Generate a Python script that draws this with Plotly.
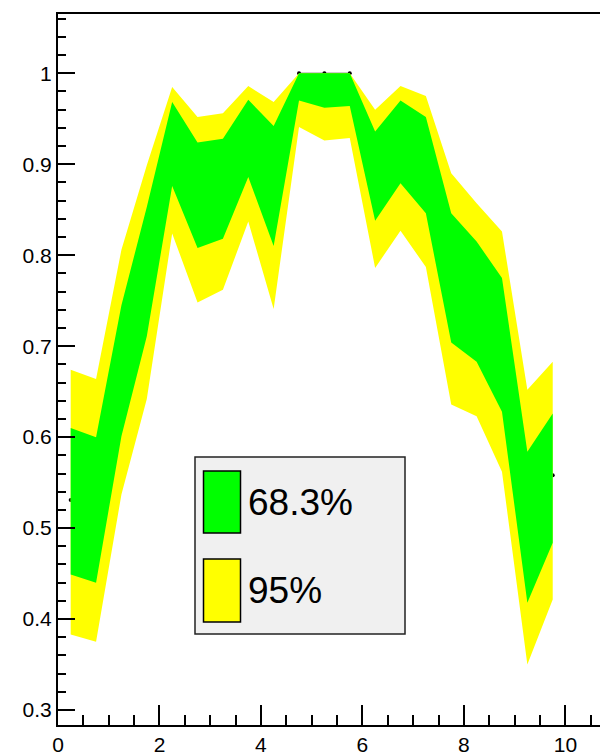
import plotly.graph_objects as go

# ---------------- data ----------------
x_centers = [0.25, 0.75, 1.25, 1.75, 2.25, 2.75, 3.25, 3.75, 4.25, 4.75,
             5.25, 5.75, 6.25, 6.75, 7.25, 7.75, 8.25, 8.75, 9.25, 9.75]
efficiency = [0.531, 0.520, 0.673, 0.782, 0.922, 0.866, 0.873, 0.928, 0.876, 1.000,
              1.000, 1.000, 0.887, 0.924, 0.899, 0.775, 0.749, 0.701, 0.501, 0.558]
band68_hi = [0.610, 0.600, 0.745, 0.853, 0.9685, 0.924, 0.928, 0.971, 0.942, 1.000,
             1.000, 1.000, 0.936, 0.970, 0.952, 0.846, 0.815, 0.775, 0.584, 0.626]
band68_lo = [0.449, 0.440, 0.601, 0.711, 0.876, 0.808, 0.818, 0.886, 0.810, 0.970,
             0.962, 0.964, 0.838, 0.879, 0.846, 0.704, 0.683, 0.628, 0.418, 0.484]
band95_hi = [0.674, 0.664, 0.806, 0.899, 0.985, 0.952, 0.956, 0.986, 0.9685, 1.000,
             1.000, 1.000, 0.960, 0.986, 0.975, 0.890, 0.857, 0.826, 0.652, 0.683]
band95_lo = [0.383, 0.375, 0.537, 0.642, 0.824, 0.748, 0.762, 0.837, 0.741, 0.941,
             0.926, 0.929, 0.786, 0.827, 0.787, 0.636, 0.623, 0.562, 0.350, 0.4215]

legend_labels = ["68.3%", "95%"]
band_colors = ["#00ff00", "#ffff00"]

x_tickvals = [0, 2, 4, 6, 8, 10]
x_ticktext = ["0", "2", "4", "6", "8", "10"]
y_tickvals = [0.3, 0.4, 0.5, 0.6, 0.7, 0.8, 0.9, 1.0]
y_ticktext = ["0.3", "0.4", "0.5", "0.6", "0.7", "0.8", "0.9", "1"]

# ---------------- layout geometry (pixels) ----------------
W, H = 600, 752
ML, MT, MB, MR = 58, 14, 27, 0
PW, PH = W - ML - MR, H - MT - MB
FONT = "Liberation Sans, Arial, Helvetica, sans-serif"


def px(xp):
    return (xp - ML) / PW


def py(yp):
    return (H - MB - yp) / PH


fig = go.Figure()

# central graph (mostly hidden behind the bands)
fig.add_trace(go.Scatter(x=x_centers, y=efficiency, mode="markers+lines",
                         line=dict(color="black", width=1),
                         marker=dict(color="black", size=4),
                         showlegend=False, hoverinfo="skip"))

# 95% band
fig.add_trace(go.Scatter(x=x_centers + x_centers[::-1],
                         y=band95_hi + band95_lo[::-1],
                         fill="toself", fillcolor=band_colors[1],
                         line=dict(width=0), mode="lines",
                         name=legend_labels[1], showlegend=False, hoverinfo="skip"))
# 68.3% band
fig.add_trace(go.Scatter(x=x_centers + x_centers[::-1],
                         y=band68_hi + band68_lo[::-1],
                         fill="toself", fillcolor=band_colors[0],
                         line=dict(width=0), mode="lines",
                         name=legend_labels[0], showlegend=False, hoverinfo="skip"))

# legend drawn as a ROOT-style box
shapes = [dict(type="rect", xref="paper", yref="paper",
               x0=px(195), x1=px(405), y0=py(634), y1=py(457),
               fillcolor="#f0f0f0", line=dict(color="#222222", width=1.5), layer="above")]
sw_rows = [(471, 533), (559, 622)]
annotations = []
for (top, bot), col, lab in zip(sw_rows, band_colors, legend_labels):
    shapes.append(dict(type="rect", xref="paper", yref="paper",
                       x0=px(203.5), x1=px(240.5), y0=py(bot), y1=py(top),
                       fillcolor=col, line=dict(color="black", width=1.5), layer="above"))
    annotations.append(dict(xref="paper", yref="paper", x=px(246), y=py((top + bot) / 2),
                            xanchor="left", yanchor="middle", text=lab, showarrow=False,
                            font=dict(family=FONT, size=37, color="black")))

y0v, y1v = 0.2835, 1.0652
fig.update_layout(
    width=W, height=H,
    margin=dict(l=ML, r=MR, t=MT, b=MB, pad=0, autoexpand=False),
    paper_bgcolor="white", plot_bgcolor="white",
    shapes=shapes, annotations=annotations,
    showlegend=False,
    xaxis=dict(range=[0, PW / 50.74], showgrid=False, zeroline=False, automargin=False,
               showline=True, linecolor="black", linewidth=2, mirror=True,
               ticks="inside", ticklen=20, tickwidth=1.5, tickcolor="black",
               tickvals=x_tickvals, ticktext=x_ticktext, ticklabelstandoff=0,
               tickfont=dict(family=FONT, size=21, color="black"),
               minor=dict(ticks="inside", ticklen=10, tickwidth=1.5, tickcolor="black",
                          dtick=0.5, tick0=0, showgrid=False)),
    yaxis=dict(range=[y0v, y1v], showgrid=False, zeroline=False, automargin=False,
               showline=True, linecolor="black", linewidth=2, mirror=False,
               ticks="inside", ticklen=17, tickwidth=1.5, tickcolor="black",
               tickvals=y_tickvals, ticktext=y_ticktext,
               tickfont=dict(family=FONT, size=21, color="black"),
               minor=dict(ticks="inside", ticklen=8, tickwidth=1.5, tickcolor="black",
                          dtick=0.02, tick0=0, showgrid=False)),
)

fig.write_html("out.html")
